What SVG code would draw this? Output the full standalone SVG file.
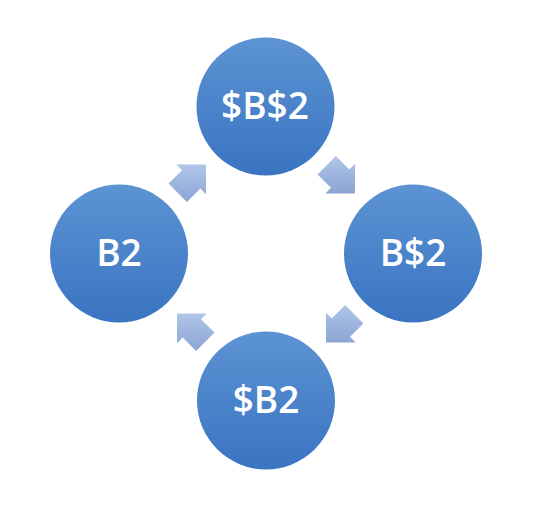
<svg xmlns="http://www.w3.org/2000/svg" width="546" height="528" viewBox="0 0 546 528">
  <defs>
    <linearGradient id="gCircle" x1="0" y1="0" x2="0" y2="1">
      <stop offset="0" stop-color="#5c93d3"/>
      <stop offset="1" stop-color="#3a74c2"/>
    </linearGradient>
    <linearGradient id="gArrow" x1="0" y1="0" x2="0" y2="1">
      <stop offset="0" stop-color="#b0c6e9"/>
      <stop offset="1" stop-color="#8ba4d3"/>
    </linearGradient>
  </defs>
  <style>
    .node circle { fill: url(#gCircle); }
    .node text { fill: #ffffff; font-family: "Open Sans", "Noto Sans", "Liberation Sans", sans-serif; font-size: 37px; font-weight: 600; text-anchor: middle; }
    .arrow { fill: url(#gArrow); }
  </style>
  <rect width="546" height="528" fill="#ffffff"/>
  <g id="connectors">
    <path class="arrow" d="M206,164.5 L176.3,164.5 L182,170.2 L168.5,183.6 L186.9,202 L200.3,188.5 L206,194.2 Z"/>
    <path class="arrow" d="M355,193.5 L355,163.8 L349.3,169.5 L335.9,156 L317.5,174.4 L331,187.8 L325.3,193.5 Z"/>
    <path class="arrow" d="M326,342.5 L355.7,342.5 L350,336.8 L363.5,323.4 L345.1,305 L331.7,318.5 L326,312.8 Z"/>
    <path class="arrow" d="M177,313.5 L177,343.2 L182.7,337.5 L196.1,351 L214.5,332.6 L201,319.2 L206.7,313.5 Z"/>
  </g>
  <g id="node-top" class="node">
    <circle cx="265.5" cy="106.5" r="69"/>
    <text x="265" y="118.5">$B$2</text>
  </g>
  <g id="node-right" class="node">
    <circle cx="413" cy="253.5" r="69"/>
    <text x="413" y="265.5">B$2</text>
  </g>
  <g id="node-bottom" class="node">
    <circle cx="266" cy="400.5" r="69"/>
    <text x="266" y="412.5">$B2</text>
  </g>
  <g id="node-left" class="node">
    <circle cx="119" cy="253.5" r="69"/>
    <text x="119" y="265.5">B2</text>
  </g>
</svg>
